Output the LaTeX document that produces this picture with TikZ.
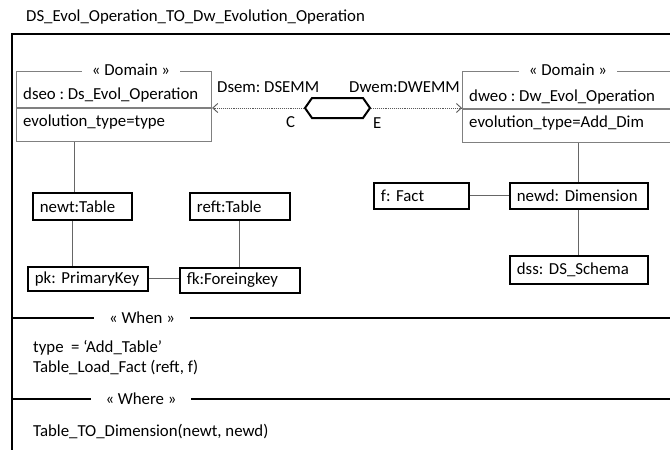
\documentclass[tikz,border=0pt]{standalone}
\usepackage{fontspec}
\setmainfont{Carlito}
\usetikzlibrary{positioning, arrows.meta, shapes.symbols}
\frenchspacing

\begin{document}
\begin{tikzpicture}[x=1pt, y=-1pt, >={Straight Barb[length=5pt, width=9pt]},
  every node/.style={font=\fontsize{16.8}{19}\selectfont},
  lbl/.style={anchor=west, inner sep=0pt},
  obj/.style={draw=black, line width=1.8pt, anchor=north west, inner xsep=7pt, inner ysep=0pt, align=left},
  dom/.style={draw=gray, line width=1.1pt, anchor=north west, inner sep=0pt},
  stereo/.style={fill=white, inner xsep=10pt, inner ysep=1pt},
  link/.style={draw=gray!80!black, line width=1.1pt},
  dep/.style={gray!70!black, line width=0.9pt, densely dotted, ->},
  frame/.style={line width=2.2pt}]
\useasboundingbox (0,0) rectangle (670,450);
\clip (0,0) rectangle (670,450);
\node[lbl] (title) at (26,17) {DS\_Evol\_Operation\_TO\_Dw\_Evolution\_Operation};
\draw[frame] (12,460) -- (12,34) -- (690,34);
% source and target domain
\node[dom, minimum width=195pt, minimum height=70pt] (dsbox) at (16,71) {};
\draw[dom] (16,108) -- (211,108);
\node[stereo] (dsst) at (131,70) {« Domain »};
\node[lbl] (dseo) at (23,95) {dseo : Ds\_Evol\_Operation};
\node[lbl] (dstype) at (23,122) {evolution\_type=type};
\node[dom, minimum width=240pt, minimum height=71pt] (dwbox) at (462,71) {};
\draw[dom] (462,109) -- (702,109);
\node[stereo] (dwst) at (568,70) {« Domain »};
\node[lbl] (dweo) at (469,97) {dweo : Dw\_Evol\_Operation};
\node[lbl] (dwtype) at (469,123) {evolution\_type=Add\_Dim};
% correspondence
\node[signal, signal to=west and east, signal pointer angle=110, draw, line width=2pt,
  minimum width=65pt, minimum height=20pt, inner sep=0pt] (hex) at (337.5,108) {};
\draw[dep] (hex.west) -- (hex.west -| dsbox.east);
\draw[dep] (hex.east) -- (hex.east -| dwbox.west);
\node[lbl] (dsem) at (217,87) {Dsem: DSEMM};
\node[lbl] (dwem) at (349,87) {Dwem:DWEMM};
\node[lbl] (cc) at (286,122) {C};
\node[lbl] (ee) at (373,123) {E};
% source objects
\node[obj, text width=85pt, minimum height=27pt] (newt) at (32,192) {newt:Table};
\node[obj, text width=86pt, minimum height=27pt] (reft) at (189,192) {reft:Table};
\node[obj, text width=106pt, minimum height=24pt] (pk) at (27,266) {pk: PrimaryKey};
\node[obj, text width=106pt, minimum height=25pt] (fk) at (179,267) {fk:Foreingkey};
\draw[link] ([xshift=-7.5pt]newt.north) -- ([xshift=-7.5pt]newt.north |- dsbox.south);
\draw[link] ([xshift=-9.5pt]newt.south) -- ([xshift=-9.5pt]newt.south |- pk.north);
\draw[link] (reft.south) -- (reft.south |- fk.north);
\draw[link] (pk.east) -- (pk.east -| fk.west);
% target objects
\node[obj, text width=81pt, minimum height=26pt] (fact) at (373,182) {f: Fact};
\node[obj, text width=124pt, minimum height=26pt] (newd) at (509,182) {newd: Dimension};
\node[obj, text width=124pt, minimum height=28pt] (dss) at (509,255) {dss: DS\_Schema};
\draw[link] (newd.north) -- (newd.north |- dwbox.south);
\draw[link] (fact.east) -- (newd.west);
\draw[link] (newd.south) -- (dss.north);
% when / where
\draw[frame] (12,318) -- (690,318);
\node[stereo, inner xsep=15pt] (when) at (142,318) {« When »};
\node[lbl] (w1) at (33,348) {type\ \ = ‘Add\_Table’};
\node[lbl] (w2) at (33,368) {Table\_Load\_Fact (reft, f)};
\draw[frame] (12,399) -- (690,399);
\node[stereo, inner xsep=15pt] (where) at (141,399) {« Where »};
\node[lbl] (wh1) at (33,432) {Table\_TO\_Dimension(newt, newd)};
\end{tikzpicture}
\end{document}
